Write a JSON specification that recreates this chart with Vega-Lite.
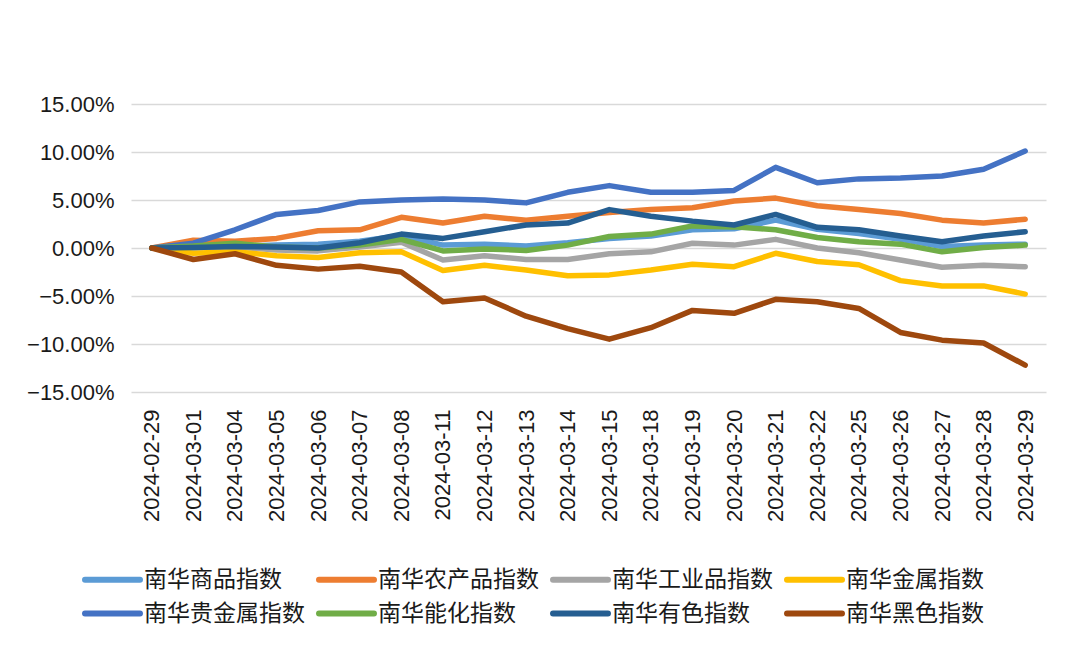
{
"$schema": "https://vega.github.io/schema/vega-lite/v6.json",
"width": 915,
"height": 288,
"autosize": {"type": "none"},
"padding": {"left": 131, "top": 104, "right": 34, "bottom": 263},
"background": "white",
"config": {"view": {"stroke": null}, "font": "Liberation Sans, Noto Sans CJK SC"},
"data": {"values": [
{"series":"南华商品指数","date":"2024-02-29","value":0},{"series":"南华商品指数","date":"2024-03-01","value":0.1},{"series":"南华商品指数","date":"2024-03-04","value":0.2},{"series":"南华商品指数","date":"2024-03-05","value":0.3},{"series":"南华商品指数","date":"2024-03-06","value":0.4},{"series":"南华商品指数","date":"2024-03-07","value":0.7},{"series":"南华商品指数","date":"2024-03-08","value":1.3},{"series":"南华商品指数","date":"2024-03-11","value":0.3},{"series":"南华商品指数","date":"2024-03-12","value":0.4},{"series":"南华商品指数","date":"2024-03-13","value":0.2},{"series":"南华商品指数","date":"2024-03-14","value":0.55},{"series":"南华商品指数","date":"2024-03-15","value":1.0},{"series":"南华商品指数","date":"2024-03-18","value":1.25},{"series":"南华商品指数","date":"2024-03-19","value":1.9},{"series":"南华商品指数","date":"2024-03-20","value":2.0},{"series":"南华商品指数","date":"2024-03-21","value":2.9},{"series":"南华商品指数","date":"2024-03-22","value":1.95},{"series":"南华商品指数","date":"2024-03-25","value":1.5},{"series":"南华商品指数","date":"2024-03-26","value":0.9},{"series":"南华商品指数","date":"2024-03-27","value":0.15},{"series":"南华商品指数","date":"2024-03-28","value":0.3},{"series":"南华商品指数","date":"2024-03-29","value":0.4},
{"series":"南华农产品指数","date":"2024-02-29","value":0},{"series":"南华农产品指数","date":"2024-03-01","value":0.8},{"series":"南华农产品指数","date":"2024-03-04","value":0.7},{"series":"南华农产品指数","date":"2024-03-05","value":1.0},{"series":"南华农产品指数","date":"2024-03-06","value":1.8},{"series":"南华农产品指数","date":"2024-03-07","value":1.9},{"series":"南华农产品指数","date":"2024-03-08","value":3.2},{"series":"南华农产品指数","date":"2024-03-11","value":2.6},{"series":"南华农产品指数","date":"2024-03-12","value":3.3},{"series":"南华农产品指数","date":"2024-03-13","value":2.9},{"series":"南华农产品指数","date":"2024-03-14","value":3.3},{"series":"南华农产品指数","date":"2024-03-15","value":3.7},{"series":"南华农产品指数","date":"2024-03-18","value":4.0},{"series":"南华农产品指数","date":"2024-03-19","value":4.2},{"series":"南华农产品指数","date":"2024-03-20","value":4.9},{"series":"南华农产品指数","date":"2024-03-21","value":5.2},{"series":"南华农产品指数","date":"2024-03-22","value":4.4},{"series":"南华农产品指数","date":"2024-03-25","value":4.0},{"series":"南华农产品指数","date":"2024-03-26","value":3.6},{"series":"南华农产品指数","date":"2024-03-27","value":2.9},{"series":"南华农产品指数","date":"2024-03-28","value":2.6},{"series":"南华农产品指数","date":"2024-03-29","value":3.0},
{"series":"南华工业品指数","date":"2024-02-29","value":0},{"series":"南华工业品指数","date":"2024-03-01","value":0},{"series":"南华工业品指数","date":"2024-03-04","value":0.1},{"series":"南华工业品指数","date":"2024-03-05","value":-0.2},{"series":"南华工业品指数","date":"2024-03-06","value":-0.3},{"series":"南华工业品指数","date":"2024-03-07","value":0.1},{"series":"南华工业品指数","date":"2024-03-08","value":0.6},{"series":"南华工业品指数","date":"2024-03-11","value":-1.25},{"series":"南华工业品指数","date":"2024-03-12","value":-0.8},{"series":"南华工业品指数","date":"2024-03-13","value":-1.2},{"series":"南华工业品指数","date":"2024-03-14","value":-1.2},{"series":"南华工业品指数","date":"2024-03-15","value":-0.6},{"series":"南华工业品指数","date":"2024-03-18","value":-0.4},{"series":"南华工业品指数","date":"2024-03-19","value":0.5},{"series":"南华工业品指数","date":"2024-03-20","value":0.3},{"series":"南华工业品指数","date":"2024-03-21","value":0.9},{"series":"南华工业品指数","date":"2024-03-22","value":0},{"series":"南华工业品指数","date":"2024-03-25","value":-0.5},{"series":"南华工业品指数","date":"2024-03-26","value":-1.25},{"series":"南华工业品指数","date":"2024-03-27","value":-2.0},{"series":"南华工业品指数","date":"2024-03-28","value":-1.8},{"series":"南华工业品指数","date":"2024-03-29","value":-1.95},
{"series":"南华金属指数","date":"2024-02-29","value":0},{"series":"南华金属指数","date":"2024-03-01","value":-0.55},{"series":"南华金属指数","date":"2024-03-04","value":-0.4},{"series":"南华金属指数","date":"2024-03-05","value":-0.8},{"series":"南华金属指数","date":"2024-03-06","value":-1.0},{"series":"南华金属指数","date":"2024-03-07","value":-0.5},{"series":"南华金属指数","date":"2024-03-08","value":-0.4},{"series":"南华金属指数","date":"2024-03-11","value":-2.35},{"series":"南华金属指数","date":"2024-03-12","value":-1.8},{"series":"南华金属指数","date":"2024-03-13","value":-2.3},{"series":"南华金属指数","date":"2024-03-14","value":-2.9},{"series":"南华金属指数","date":"2024-03-15","value":-2.8},{"series":"南华金属指数","date":"2024-03-18","value":-2.3},{"series":"南华金属指数","date":"2024-03-19","value":-1.7},{"series":"南华金属指数","date":"2024-03-20","value":-1.95},{"series":"南华金属指数","date":"2024-03-21","value":-0.55},{"series":"南华金属指数","date":"2024-03-22","value":-1.4},{"series":"南华金属指数","date":"2024-03-25","value":-1.75},{"series":"南华金属指数","date":"2024-03-26","value":-3.4},{"series":"南华金属指数","date":"2024-03-27","value":-3.95},{"series":"南华金属指数","date":"2024-03-28","value":-3.95},{"series":"南华金属指数","date":"2024-03-29","value":-4.8},
{"series":"南华贵金属指数","date":"2024-02-29","value":0},{"series":"南华贵金属指数","date":"2024-03-01","value":0.5},{"series":"南华贵金属指数","date":"2024-03-04","value":1.9},{"series":"南华贵金属指数","date":"2024-03-05","value":3.5},{"series":"南华贵金属指数","date":"2024-03-06","value":3.9},{"series":"南华贵金属指数","date":"2024-03-07","value":4.8},{"series":"南华贵金属指数","date":"2024-03-08","value":5.0},{"series":"南华贵金属指数","date":"2024-03-11","value":5.1},{"series":"南华贵金属指数","date":"2024-03-12","value":5.0},{"series":"南华贵金属指数","date":"2024-03-13","value":4.7},{"series":"南华贵金属指数","date":"2024-03-14","value":5.8},{"series":"南华贵金属指数","date":"2024-03-15","value":6.5},{"series":"南华贵金属指数","date":"2024-03-18","value":5.8},{"series":"南华贵金属指数","date":"2024-03-19","value":5.8},{"series":"南华贵金属指数","date":"2024-03-20","value":6.0},{"series":"南华贵金属指数","date":"2024-03-21","value":8.4},{"series":"南华贵金属指数","date":"2024-03-22","value":6.8},{"series":"南华贵金属指数","date":"2024-03-25","value":7.2},{"series":"南华贵金属指数","date":"2024-03-26","value":7.3},{"series":"南华贵金属指数","date":"2024-03-27","value":7.5},{"series":"南华贵金属指数","date":"2024-03-28","value":8.2},{"series":"南华贵金属指数","date":"2024-03-29","value":10.1},
{"series":"南华能化指数","date":"2024-02-29","value":0},{"series":"南华能化指数","date":"2024-03-01","value":0.2},{"series":"南华能化指数","date":"2024-03-04","value":0.5},{"series":"南华能化指数","date":"2024-03-05","value":0.1},{"series":"南华能化指数","date":"2024-03-06","value":0},{"series":"南华能化指数","date":"2024-03-07","value":0.3},{"series":"南华能化指数","date":"2024-03-08","value":0.9},{"series":"南华能化指数","date":"2024-03-11","value":-0.3},{"series":"南华能化指数","date":"2024-03-12","value":-0.1},{"series":"南华能化指数","date":"2024-03-13","value":-0.25},{"series":"南华能化指数","date":"2024-03-14","value":0.3},{"series":"南华能化指数","date":"2024-03-15","value":1.2},{"series":"南华能化指数","date":"2024-03-18","value":1.45},{"series":"南华能化指数","date":"2024-03-19","value":2.3},{"series":"南华能化指数","date":"2024-03-20","value":2.2},{"series":"南华能化指数","date":"2024-03-21","value":1.9},{"series":"南华能化指数","date":"2024-03-22","value":1.1},{"series":"南华能化指数","date":"2024-03-25","value":0.65},{"series":"南华能化指数","date":"2024-03-26","value":0.4},{"series":"南华能化指数","date":"2024-03-27","value":-0.4},{"series":"南华能化指数","date":"2024-03-28","value":0.05},{"series":"南华能化指数","date":"2024-03-29","value":0.3},
{"series":"南华有色指数","date":"2024-02-29","value":0},{"series":"南华有色指数","date":"2024-03-01","value":0.05},{"series":"南华有色指数","date":"2024-03-04","value":0.15},{"series":"南华有色指数","date":"2024-03-05","value":0.1},{"series":"南华有色指数","date":"2024-03-06","value":0},{"series":"南华有色指数","date":"2024-03-07","value":0.55},{"series":"南华有色指数","date":"2024-03-08","value":1.45},{"series":"南华有色指数","date":"2024-03-11","value":1.0},{"series":"南华有色指数","date":"2024-03-12","value":1.7},{"series":"南华有色指数","date":"2024-03-13","value":2.4},{"series":"南华有色指数","date":"2024-03-14","value":2.6},{"series":"南华有色指数","date":"2024-03-15","value":4.0},{"series":"南华有色指数","date":"2024-03-18","value":3.3},{"series":"南华有色指数","date":"2024-03-19","value":2.8},{"series":"南华有色指数","date":"2024-03-20","value":2.4},{"series":"南华有色指数","date":"2024-03-21","value":3.5},{"series":"南华有色指数","date":"2024-03-22","value":2.15},{"series":"南华有色指数","date":"2024-03-25","value":1.9},{"series":"南华有色指数","date":"2024-03-26","value":1.25},{"series":"南华有色指数","date":"2024-03-27","value":0.65},{"series":"南华有色指数","date":"2024-03-28","value":1.25},{"series":"南华有色指数","date":"2024-03-29","value":1.7},
{"series":"南华黑色指数","date":"2024-02-29","value":0},{"series":"南华黑色指数","date":"2024-03-01","value":-1.2},{"series":"南华黑色指数","date":"2024-03-04","value":-0.6},{"series":"南华黑色指数","date":"2024-03-05","value":-1.8},{"series":"南华黑色指数","date":"2024-03-06","value":-2.2},{"series":"南华黑色指数","date":"2024-03-07","value":-1.9},{"series":"南华黑色指数","date":"2024-03-08","value":-2.5},{"series":"南华黑色指数","date":"2024-03-11","value":-5.6},{"series":"南华黑色指数","date":"2024-03-12","value":-5.2},{"series":"南华黑色指数","date":"2024-03-13","value":-7.1},{"series":"南华黑色指数","date":"2024-03-14","value":-8.4},{"series":"南华黑色指数","date":"2024-03-15","value":-9.5},{"series":"南华黑色指数","date":"2024-03-18","value":-8.3},{"series":"南华黑色指数","date":"2024-03-19","value":-6.5},{"series":"南华黑色指数","date":"2024-03-20","value":-6.8},{"series":"南华黑色指数","date":"2024-03-21","value":-5.35},{"series":"南华黑色指数","date":"2024-03-22","value":-5.6},{"series":"南华黑色指数","date":"2024-03-25","value":-6.3},{"series":"南华黑色指数","date":"2024-03-26","value":-8.8},{"series":"南华黑色指数","date":"2024-03-27","value":-9.6},{"series":"南华黑色指数","date":"2024-03-28","value":-9.9},{"series":"南华黑色指数","date":"2024-03-29","value":-12.2}
]},
"mark": {"type": "line", "strokeWidth": 5.5, "strokeJoin": "round", "strokeCap": "round"},
"encoding": {
  "x": {"field": "date", "type": "ordinal", "sort": null,
        "scale": {"type": "point", "padding": 0.5},
        "axis": {"title": null, "labelAngle": -90, "labelAlign": "right", "labelBaseline": "middle",
                 "labelFontSize": 22, "labelColor": "#1a1a1a", "labelPadding": 17,
                 "ticks": false, "domain": false, "grid": false, "labelFont": "Liberation Sans"}},
  "y": {"field": "value", "type": "quantitative",
        "scale": {"domain": [-15, 15], "nice": false},
        "axis": {"title": null, "values": [-15, -10, -5, 0, 5, 10, 15],
                 "labelExpr": "format(datum.value, '.2f') + '%'",
                 "labelFontSize": 22, "labelColor": "#1a1a1a", "labelPadding": 17, "labelFont": "Liberation Sans",
                 "ticks": false, "domain": false, "gridColor": "#d9d9d9", "gridWidth": 1.5}},
  "color": {"field": "series", "type": "nominal",
        "sort": ["南华商品指数","南华农产品指数","南华工业品指数","南华金属指数","南华贵金属指数","南华能化指数","南华有色指数","南华黑色指数"],
        "scale": {"domain": ["南华商品指数","南华农产品指数","南华工业品指数","南华金属指数","南华贵金属指数","南华能化指数","南华有色指数","南华黑色指数"],
                  "range": ["#5B9BD5","#ED7D31","#A5A5A5","#FFC000","#4472C4","#70AD47","#255E91","#9E480E"]},
        "legend": {"title": null, "orient": "none", "legendX": -39, "legendY": 455, "direction": "horizontal",
                   "columns": 4, "symbolType": "M-1.57,0H1.57", "symbolSize": 1225, "symbolStrokeWidth": 6,
                   "labelFontSize": 23, "labelFont": "Noto Sans CJK SC", "labelColor": "#1a1a1a",
                   "labelOffset": 11, "columnPadding": 2, "rowPadding": 1, "padding": 0, "labelLimit": 400,
                   "encode": {"symbols": {"update": {"strokeCap": {"value": "round"}}}}}}
}
}
